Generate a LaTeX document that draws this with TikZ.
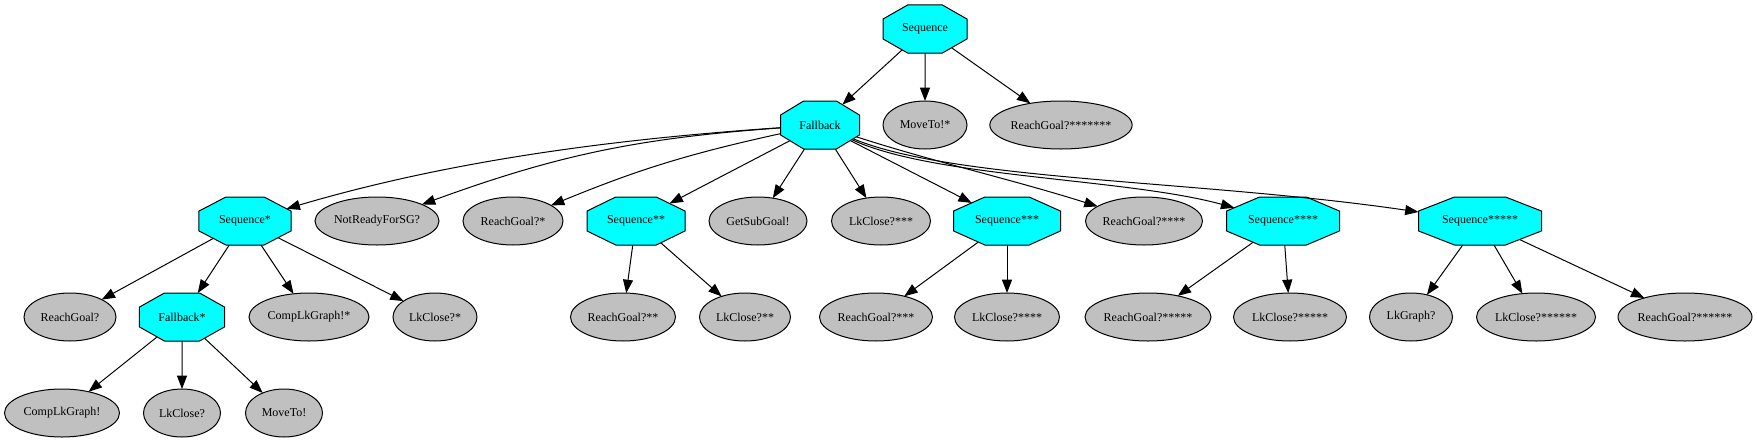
\documentclass[tikz,border=0pt]{standalone}
\usepackage{fontspec}
\setmainfont{Liberation Serif}
\usetikzlibrary{shapes.geometric,arrows.meta}
\definecolor{octcyan}{HTML}{00FFFF}
\definecolor{leafgray}{HTML}{C0C0C0}
\newcommand\mkoct[5]{\pgfmathsetmacro\octinv{48/#4}\node[octo=#4] (#1) at (#2,#3) {\scalebox{\octinv}[1]{#5}};}
\begin{document}
\begin{tikzpicture}[x=0.75pt,y=-0.75pt,font=\fontsize{9}{11}\selectfont,
  octo/.style={regular polygon, regular polygon sides=8, minimum size=38.97pt, inner sep=0pt, outer sep=0pt, xscale=#1/48, draw=black, fill=octcyan, line width=0.75pt},
  leaf/.style={ellipse, minimum width=#1*0.75pt, minimum height=36pt, inner sep=0pt, outer sep=0pt, draw=black, fill=leafgray, line width=0.75pt},
  conn/.style={-{Triangle[length=10pt,width=7.5pt]}, line width=0.75pt}]
\useasboundingbox (0,0) rectangle (1757,443);
% row 1
\mkoct{seq}{925}{29}{84}{Sequence}
% row 2
\mkoct{fb}{820}{125}{79}{Fallback}
\node[leaf=84] (mv1) at (925,125) {MoveTo!*};
\node[leaf=140] (rg7) at (1061,125) {ReachGoal?*******};
% row 3
\mkoct{s1}{245}{221}{92}{Sequence*}
\node[leaf=124] (nr) at (377,221) {NotReadyForSG?};
\node[leaf=100] (rg1) at (513,221) {ReachGoal?*};
\mkoct{s2}{636}{221}{98}{Sequence**}
\node[leaf=98] (gsg) at (758,221) {GetSubGoal!};
\node[leaf=99] (lk3) at (881,221) {LkClose?***};
\mkoct{s3}{1007}{221}{107}{Sequence***}
\node[leaf=117] (rg4) at (1144,221) {ReachGoal?****};
\mkoct{s4}{1283}{221}{113}{Sequence****}
\mkoct{s5}{1480}{221}{123}{Sequence*****}
% row 4
\node[leaf=92] (rg0) at (70,317) {ReachGoal?};
\mkoct{f1}{182}{317}{85}{Fallback*}
\node[leaf=120] (clg1) at (309,317) {CompLkGraph!*};
\node[leaf=84] (lk1) at (435,317) {LkClose?*};
\node[leaf=105] (rg2) at (623,317) {ReachGoal?**};
\node[leaf=91] (lk2) at (745,317) {LkClose?**};
\node[leaf=113] (rg3) at (876,317) {ReachGoal?***};
\node[leaf=105] (lk4) at (1007,317) {LkClose?****};
\node[leaf=126] (rg5) at (1148,317) {ReachGoal?*****};
\node[leaf=113] (lk5) at (1290,317) {LkClose?*****};
\node[leaf=83] (lkg) at (1411,317) {LkGraph?};
\node[leaf=119] (lk6) at (1536,317) {LkClose?******};
\node[leaf=134] (rg6) at (1685,317) {ReachGoal?******};
% row 5
\node[leaf=115] (clg) at (62,413) {CompLkGraph!};
\node[leaf=77] (lk0) at (182,413) {LkClose?};
\node[leaf=77] (mv) at (284,413) {MoveTo!};
% edges
\draw[conn] (seq) -- (fb);
\draw[conn] (seq) -- (mv1);
\draw[conn] (seq) -- (rg7);
\draw[conn] (fb) .. controls (600,140) and (442,163) .. (s1);
\draw[conn] (fb) to[bend right=8] (nr);
\draw[conn] (fb) to[bend right=5] (rg1);
\draw[conn] (fb) -- (s2);
\draw[conn] (fb) -- (gsg);
\draw[conn] (fb) -- (lk3);
\draw[conn] (fb) -- (s3);
\draw[conn] (fb) .. controls (931,161) and (1014,180) .. (rg4);
\draw[conn] (fb) .. controls (935,178) and (1125,178) .. (s4);
\draw[conn] (fb) .. controls (955,181) and (1200,180) .. (s5);
\draw[conn] (s1) -- (rg0);
\draw[conn] (s1) -- (f1);
\draw[conn] (s1) -- (clg1);
\draw[conn] (s1) -- (lk1);
\draw[conn] (f1) -- (clg);
\draw[conn] (f1) -- (lk0);
\draw[conn] (f1) -- (mv);
\draw[conn] (s2) -- (rg2);
\draw[conn] (s2) -- (lk2);
\draw[conn] (s3) -- (rg3);
\draw[conn] (s3) -- (lk4);
\draw[conn] (s4) -- (rg5);
\draw[conn] (s4) -- (lk5);
\draw[conn] (s5) -- (lkg);
\draw[conn] (s5) -- (lk6);
\draw[conn] (s5) -- (rg6);
\end{tikzpicture}
\end{document}
